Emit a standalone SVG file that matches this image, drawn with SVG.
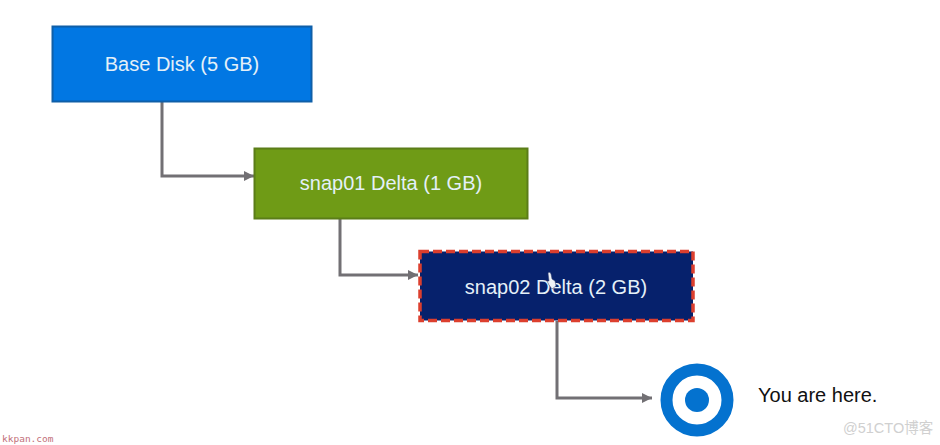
<svg xmlns="http://www.w3.org/2000/svg" width="940" height="445" viewBox="0 0 940 445">
  <style>
    text { font-family: "Liberation Sans", Arial, sans-serif; }
    .label { font-size: 20px; text-anchor: middle; fill: #e4f0f8; }
    .box { stroke-width: 2; }
    .link { fill: none; stroke: #727074; stroke-width: 3; marker-end: url(#head); }
  </style>
  <defs>
    <marker id="head" markerUnits="userSpaceOnUse" markerWidth="11" markerHeight="12" refX="10" refY="6" orient="auto">
      <path d="M0 1 L10 6 L0 11 Z" fill="#727074"/>
    </marker>
  </defs>
  <rect width="940" height="445" fill="#ffffff"/>

  <g id="connectors">
    <path class="link" d="M162 102 V176 H254"/>
    <path class="link" d="M340 219 V275 H418"/>
    <path class="link" d="M557 321 V398 H652"/>
  </g>

  <g id="base-disk">
    <rect class="box" x="52.500" y="26.500" width="259" height="75" fill="#0177e3" stroke="#0f5fa8"/>
    <text class="label" x="182" y="71">Base Disk (5 GB)</text>
  </g>
  <g id="snap01">
    <rect class="box" x="254.500" y="148.500" width="273" height="70" fill="#6f9b16" stroke="#5b7d18"/>
    <text class="label" x="391" y="190">snap01 Delta (1 GB)</text>
  </g>
  <g id="snap02">
    <rect x="420" y="251.500" width="273" height="69" fill="#06216c"/>
    <rect x="420" y="251.500" width="273" height="69" fill="none" stroke="#dc3f2e" stroke-width="3.500" stroke-dasharray="9 4"/>
    <text class="label" x="556" y="294">snap02 Delta (2 GB)</text>
  </g>
  <g id="here-marker">
    <circle cx="697" cy="400" r="30.500" fill="#ffffff" stroke="#0472cf" stroke-width="12"/>
    <circle cx="697" cy="400" r="12" fill="#0472cf"/>
    <text x="758" y="402" font-size="20" fill="#111111">You are here.</text>
  </g>

  <!-- pointer cursor resting on the snap02 label -->
  <path d="M548 273 Q550 271 551 274 L552 279 L555 281 L556 286 L552 289 L549 285 L547 281 L549 281 Z" fill="#eef2f8" stroke="#33406f" stroke-width="0.500"/>

  <!-- publisher stamps along the bottom edge -->
  <text x="2" y="442" font-size="9.500" fill="#c2707a" style="font-family:'DejaVu Sans Mono','Liberation Mono',monospace">kkpan.com</text>
  <text x="843" y="433" font-size="14.500" fill="#d0d0d0" style="font-family:'Liberation Sans','Noto Sans CJK SC',sans-serif">@51CTO博客</text>
</svg>
